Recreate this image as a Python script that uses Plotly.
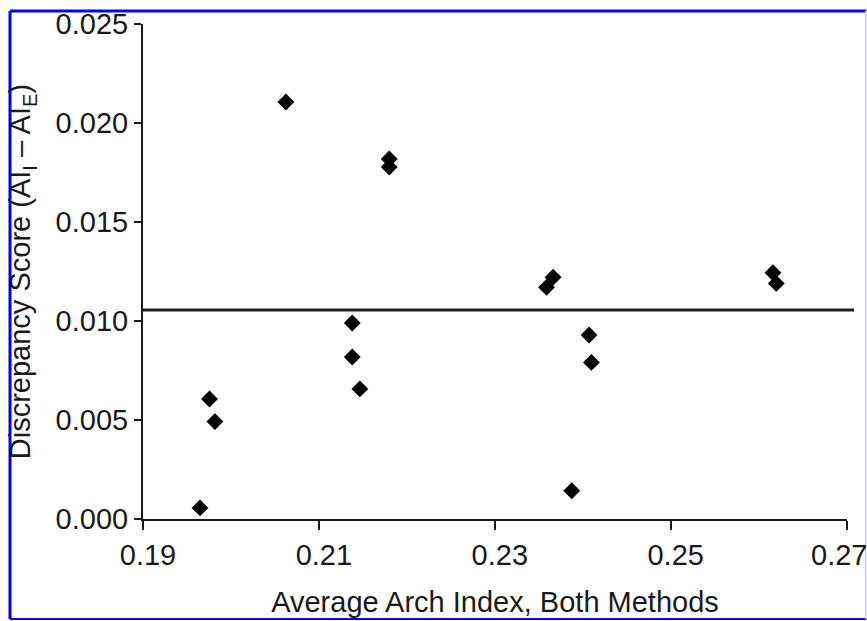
import plotly.graph_objects as go

# Data
avg_arch_index = [0.19756, 0.19818, 0.19648, 0.20625, 0.21800, 0.21800,
                  0.21379, 0.21379, 0.21466, 0.23663, 0.23588, 0.24072,
                  0.24099, 0.23875, 0.26163, 0.26201]
discrepancy = [0.00606, 0.00492, 0.00056, 0.02106, 0.01818, 0.01778,
               0.00990, 0.00818, 0.00657, 0.01221, 0.01170, 0.00929,
               0.00791, 0.00143, 0.01244, 0.01190]
mean_discrepancy = 0.01056

x_ticks = [0.19, 0.21, 0.23, 0.25, 0.27]
x_tick_labels = ["0.19", "0.21", "0.23", "0.25", "0.27"]
y_ticks = [0.000, 0.005, 0.010, 0.015, 0.020, 0.025]
y_tick_labels = ["0.000", "0.005", "0.010", "0.015", "0.020", "0.025"]

x_title = "Average Arch Index, Both Methods"
y_title = "Discrepancy Score (AI<sub>I</sub> – AI<sub>E</sub>)"

FONT = "Liberation Sans, Arial, sans-serif"
INK = "#1a1a1a"
FS = 29

fig = go.Figure()
fig.add_trace(go.Scatter(
    x=avg_arch_index, y=discrepancy, mode="markers",
    marker=dict(symbol="diamond", size=13, color="black", line=dict(width=0)),
    showlegend=False, hoverinfo="x+y",
))

# mean discrepancy line
fig.add_shape(type="line", xref="x domain", yref="y", x0=0, x1=1.01,
              y0=mean_discrepancy, y1=mean_discrepancy,
              line=dict(color="#202020", width=3))

# blue frame around the picture
blue = "#0000ff"
fig.add_shape(type="line", xref="paper", yref="paper", x0=-0.1889, x1=-0.1889,
              y0=-0.2020, y1=1.0263, line=dict(color=blue, width=3))
fig.add_shape(type="line", xref="paper", yref="paper", x0=-0.1889, x1=1.0275,
              y0=1.0263, y1=1.0263, line=dict(color=blue, width=3))
fig.add_shape(type="line", xref="paper", yref="paper", x0=-0.1889, x1=1.0275,
              y0=-0.2020, y1=-0.2020, line=dict(color=blue, width=2))
fig.add_shape(type="line", xref="paper", yref="paper", x0=1.0265, x1=1.0265,
              y0=-0.2020, y1=1.0263, line=dict(color="#c8c8ff", width=1.5))

# last x tick label is pulled inward so that it stays inside the picture
shown_x_text = x_tick_labels[:-1] + [""]
fig.add_annotation(
    x=x_ticks[-1], xref="x", y=-0.0727, yref="paper",
    text=x_tick_labels[-1], showarrow=False, xanchor="center", yanchor="middle",
    xshift=-8, font=dict(family=FONT, size=FS, color=INK),
)

fig.update_layout(
    width=867, height=621,
    margin=dict(l=143, r=20, t=24, b=102, autoexpand=False),
    paper_bgcolor="white", plot_bgcolor="white",
    font=dict(family=FONT, size=FS, color=INK),
)
fig.update_xaxes(
    range=[0.19, 0.27005], tickmode="array", tickvals=x_ticks, ticktext=shown_x_text,
    ticklabelshift=5,
    showgrid=False, zeroline=False, showline=True, linecolor=INK, linewidth=2,
    ticks="outside", ticklen=9, tickwidth=2, tickcolor=INK,
    tickfont=dict(size=FS, color=INK),
    title=dict(text=x_title, font=dict(size=FS, color=INK), standoff=22),
)
fig.update_yaxes(
    range=[0, 0.025], tickmode="array", tickvals=y_ticks, ticktext=y_tick_labels,
    showgrid=False, zeroline=False, showline=True, linecolor=INK, linewidth=2,
    ticks="outside", ticklen=7, tickwidth=2, tickcolor=INK,
    tickfont=dict(size=FS, color=INK),
    title=dict(text=y_title, font=dict(size=FS, color=INK), standoff=16),
)

fig.write_html(
    "out.html",
    config={"displayModeBar": False},
    post_script="document.body.style.margin='0px';document.body.style.overflow='hidden';",
)
